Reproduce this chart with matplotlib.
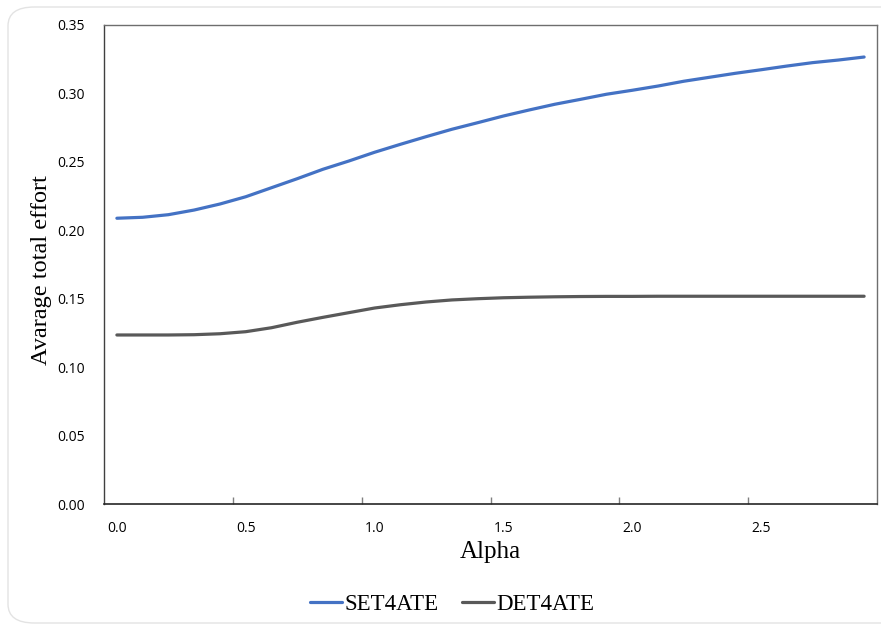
import matplotlib
matplotlib.use("Agg")
import matplotlib.pyplot as plt
from matplotlib.patches import FancyBboxPatch

# alpha categories 0.0 .. 2.9
alpha = [round(0.1 * i, 1) for i in range(30)]
tick_labels = ["0.0", "0.5", "1.0", "1.5", "2.0", "2.5"]

set4ate = [0.2088, 0.2095, 0.2114, 0.2148, 0.2192, 0.2245, 0.2311, 0.2377, 0.2446, 0.2506,
           0.2570, 0.2628, 0.2684, 0.2738, 0.2786, 0.2835, 0.2879, 0.2921, 0.2957, 0.2994,
           0.3023, 0.3054, 0.3089, 0.3118, 0.3147, 0.3173, 0.3200, 0.3225, 0.3244, 0.3266]
det4ate = [0.1235, 0.1235, 0.1235, 0.1237, 0.1244, 0.1259, 0.1288, 0.1328, 0.1364, 0.1398,
           0.1432, 0.1456, 0.1476, 0.1491, 0.1500, 0.1507, 0.1511, 0.1514, 0.1516, 0.1517,
           0.1517, 0.1518, 0.1518, 0.1518, 0.1518, 0.1518, 0.1518, 0.1518, 0.1518, 0.1518]

W, H = 881, 628
fig = plt.figure(figsize=(W / 100, H / 100), dpi=100)
fig.patch.set_facecolor("white")

# rounded chart-area border
border = FancyBboxPatch((8 / W, 1 - 623 / H), 900 / W, 616 / H,
                        boxstyle="round,pad=0,rounding_size=0.03",
                        transform=fig.transFigure, fc="none", ec="#e3e3e3", lw=1.0,
                        zorder=-1)
fig.patches.append(border)

ax = fig.add_axes([104 / W, 1 - 504 / H, (877 - 104) / W, (504 - 25) / H])

x = list(range(len(alpha)))
ax.plot(x, set4ate, color="#4472C4", lw=2.3, label="SET4ATE", solid_capstyle="round")
ax.plot(x, det4ate, color="#595959", lw=2.3, label="DET4ATE", solid_capstyle="round")

ax.set_xlim(-0.5, len(alpha) - 0.5)
ax.set_ylim(0, 0.35)

# category axis: labels every 5 categories, tick marks between categories
ax.set_xticks([0, 5, 10, 15, 20, 25])
ax.set_xticklabels(tick_labels)
ax.set_xticks([4.5, 9.5, 14.5, 19.5, 24.5], minor=True)
ax.tick_params(axis="x", which="major", length=0, pad=12, labelsize=10)
ax.tick_params(axis="x", which="minor", direction="in", length=5, color="#7f7f7f", width=1)
ax.set_yticks([0.0, 0.05, 0.10, 0.15, 0.20, 0.25, 0.30, 0.35])
ax.set_yticklabels(["%.2f" % v for v in ax.get_yticks()])
ax.tick_params(axis="y", length=0, pad=14, labelsize=10)
for lab in ax.get_xticklabels() + ax.get_yticklabels():
    lab.set_family("Open Sans")
    lab.set_color("#000000")

for s in ["top", "right"]:
    ax.spines[s].set_color("#6e6e6e")
    ax.spines[s].set_linewidth(1.0)
ax.spines["left"].set_color("#404040")
ax.spines["bottom"].set_color("#262626")
ax.spines["left"].set_linewidth(1.0)
ax.spines["bottom"].set_linewidth(1.2)

fig.text(490 / W, 1 - 552 / H, "Alpha", family="Liberation Serif", fontsize=18,
         ha="center", va="center")
fig.text(42 / W, 1 - 270 / H, "Avarage total effort", family="Liberation Serif",
         fontsize=17.5, rotation=90, ha="center", va="center")

fig.legend(loc="center", bbox_to_anchor=(452 / W, 1 - 604 / H), ncol=2, frameon=False,
           prop={"family": "Liberation Serif", "size": 16.5}, handlelength=1.4,
           handletextpad=0.1, columnspacing=1.0)

fig.savefig("out.png", dpi=100)
